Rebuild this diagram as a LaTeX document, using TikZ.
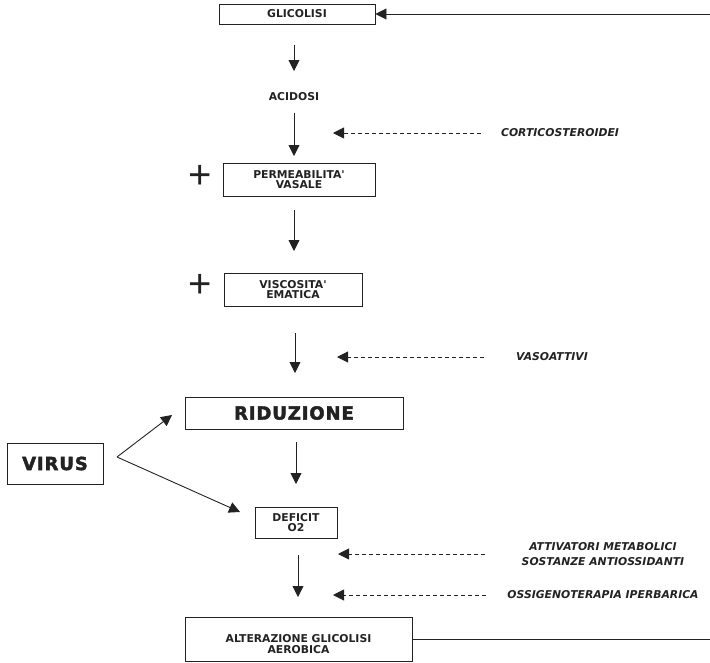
\documentclass[tikz,border=0pt]{standalone}
\usepackage{fontspec}
\setmainfont{DejaVu Sans}
\newfontfamily\lblfont{DejaVu Sans Bold}[ItalicFont=DejaVu Sans Bold Oblique]
\newfontfamily\heavyfont{DejaVu Sans Bold}[LetterSpace=5, FakeBold=2.5]
\newfontfamily\plusfont{Liberation Sans}
\usetikzlibrary{arrows.meta}
\definecolor{ink}{HTML}{222222}
\begin{document}
\begin{tikzpicture}[x=1pt,y=-1pt,
  every node/.style={text=ink, align=center},
  box/.style={draw=ink, line width=0.9pt, inner sep=0pt},
  lbl/.style={font=\lblfont\fontsize{10.8}{10.5}\selectfont},
  cure/.style={font=\lblfont\itshape\fontsize{10.8}{15}\selectfont},
  big/.style={font=\heavyfont\fontsize{18}{19}\selectfont},
  plus/.style={font=\plusfont\fontsize{40}{40}\selectfont, inner sep=0pt},
  arr/.style={draw=ink, line width=0.9pt, -{Triangle[width=11pt,length=11pt]}},
  darr/.style={arr, dash pattern=on 4pt off 3pt},
  link/.style={draw=ink, line width=0.9pt}]
\useasboundingbox (0,0) rectangle (710,662);

% main chain
\node[box, lbl, minimum width=156pt, minimum height=20pt] (glic) at (297,14) {GLICOLISI};
\node[lbl] (acid) at (294,97) {ACIDOSI};
\node[box, lbl, minimum width=152pt, minimum height=33pt] (perm) at (299,179.5) {PERMEABILITA'\\VASALE};
\node[box, lbl, minimum width=138pt, minimum height=33pt] (visc) at (293,289.5) {VISCOSITA'\\EMATICA};
\node[box, big, minimum width=218pt, minimum height=32pt] (ridu) at (294,413) {RIDUZIONE};
\node[box, big, minimum width=96pt, minimum height=41pt] (virus) at (55,463.5) {VIRUS};
\node[box, lbl, minimum width=82pt, minimum height=31pt] (defi) at (296,522.5) {DEFICIT\\O2};
\node[box, lbl, minimum width=227pt, minimum height=44pt, text depth=0pt] (alte) at (298.5,639) {\raisebox{-4pt}{\parbox{180pt}{\centering ALTERAZIONE GLICOLISI\\AEROBICA}}};

% plus markers
\node[plus] (p1) at (200,177) {+};
\node[plus] (p2) at (200,286) {+};

% therapy labels
\node[cure] (cort) at (560,133) {CORTICOSTEROIDEI};
\node[cure] (vaso) at (552,357) {VASOATTIVI};
\node[cure] (attv) at (603,554) {ATTIVATORI METABOLICI\\SOSTANZE ANTIOSSIDANTI};
\node[cure] (ossi) at (603,595) {OSSIGENOTERAPIA IPERBARICA};

% free-standing flow arrows
\coordinate (f1a) at (294,45);  \coordinate (f1b) at (294,71);
\coordinate (f2a) at (294,113); \coordinate (f2b) at (294,156);
\coordinate (f3a) at (294,210); \coordinate (f3b) at (294,251);
\coordinate (f4a) at (295,333); \coordinate (f4b) at (295,373);
\coordinate (f5a) at (296,442); \coordinate (f5b) at (296,484);
\coordinate (f6a) at (298,555); \coordinate (f6b) at (298,597);
\draw[arr] (f1a) -- (f1b);
\draw[arr] (f2a) -- (f2b);
\draw[arr] (f3a) -- (f3b);
\draw[arr] (f4a) -- (f4b);
\draw[arr] (f5a) -- (f5b);
\draw[arr] (f6a) -- (f6b);

% dashed therapy arrows
\coordinate (t1) at (333,133);
\coordinate (t2) at (337,357);
\coordinate (t3) at (338,554);
\coordinate (t4) at (333,595);
\draw[darr, shorten <=17pt] (cort) -- (t1);
\draw[darr, shorten <=29pt] (vaso) -- (t2);
\draw[darr, shorten <=33pt] (attv) -- (t3);
\draw[darr, shorten <=18pt] (ossi) -- (t4);

% virus branches
\coordinate (vx) at (117,457);
\coordinate (vr) at (172,415);
\coordinate (vd) at (240,512);
\draw[arr] (vx) -- (vr);
\draw[arr] (vx) -- (vd);

% feedback loop
\coordinate (fbb) at (711,639);
\coordinate (fbt) at (711,14);
\draw[link] (alte) -- (fbb);
\draw[arr] (fbt) -- (glic);
\end{tikzpicture}
\end{document}
